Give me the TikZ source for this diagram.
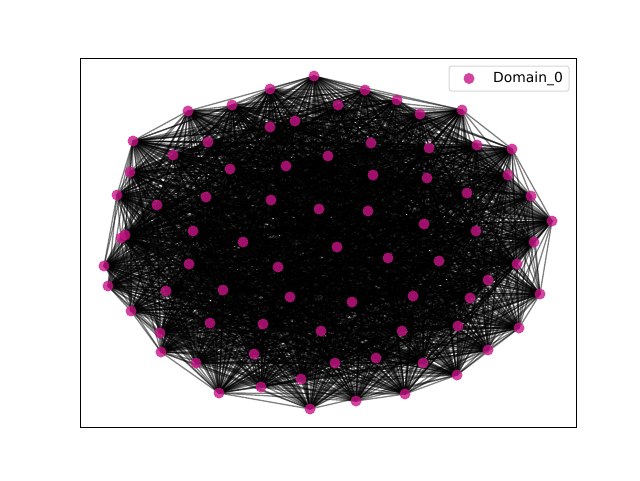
\documentclass[tikz,border=0pt]{standalone}
\usepackage{fontspec}
\setmainfont{DejaVu Sans}
\definecolor{mvr}{HTML}{C71585}
\definecolor{legedge}{HTML}{CCCCCC}
\tikzset{
  edge/.style={draw=black, opacity=0.5, line width=1.3pt},
  dot/.style={circle, fill=mvr, fill opacity=0.8, draw=none, minimum size=11pt, inner sep=0pt},
  frame/.style={draw=black, line width=1pt},
  legbox/.style={draw=legedge, fill=white, fill opacity=0.8, draw opacity=0.8, rounded corners=2.5pt, line width=1pt},
}
\begin{document}
\begin{tikzpicture}[x=1pt,y=-1pt]
\useasboundingbox (0,0) rectangle (640,480);
\foreach [count=\i] \x/\y in {
314/76, 270/89, 232/105, 188/111, 133/141, 130/172, 117/195, 125/235, 121/238, 208/142,
173/155, 270/127, 295/121, 328/156, 230/169, 286/166, 157/205, 206/197, 271/200, 319/209,
193/231, 243/242, 365/90, 338/105, 397/100, 420/114, 462/110, 512/149, 477/145, 508/175,
531/196, 552/221, 534/242, 371/143, 429/148, 373/175, 427/178, 467/193, 368/211, 424/224,
476/231, 337/247, 104/266, 108/286, 189/264, 278/267, 166/291, 223/290, 290/297, 131/311,
160/333, 161/352, 210/323, 263/324, 321/331, 196/363, 254/354, 219/393, 261/387, 301/379,
310/409, 388/258, 439/261, 517/264, 488/280, 470/298, 540/294, 352/302, 413/296, 402/331,
458/326, 519/328, 488/350, 335/363, 376/358, 423/363, 457/375, 405/394, 356/401}
  \coordinate (c\i) at (\x,\y);
\pgfmathsetseed{2024}
\foreach \i in {1,...,78} {
  \pgfmathtruncatemacro\s{\i+1}
  \foreach \j in {\s,...,79} {
    \pgfmathsetmacro\r{rnd}
    \ifdim\r pt<0.75pt \draw[edge] (c\i) -- (c\j); \fi
  }
}
\foreach \i in {1,...,79} \node[dot] (n\i) at (c\i) {};
\draw[frame] (80,58) rectangle (576,427);
\draw[legbox] (449,66) rectangle (569,91);
\node[dot] (legdot) at (469,78.5) {};
\node[anchor=west, inner sep=0pt, font=\fontsize{13.9}{16}\selectfont] (legtext) at (493,78.5) {Domain\_0};
\end{tikzpicture}
\end{document}
